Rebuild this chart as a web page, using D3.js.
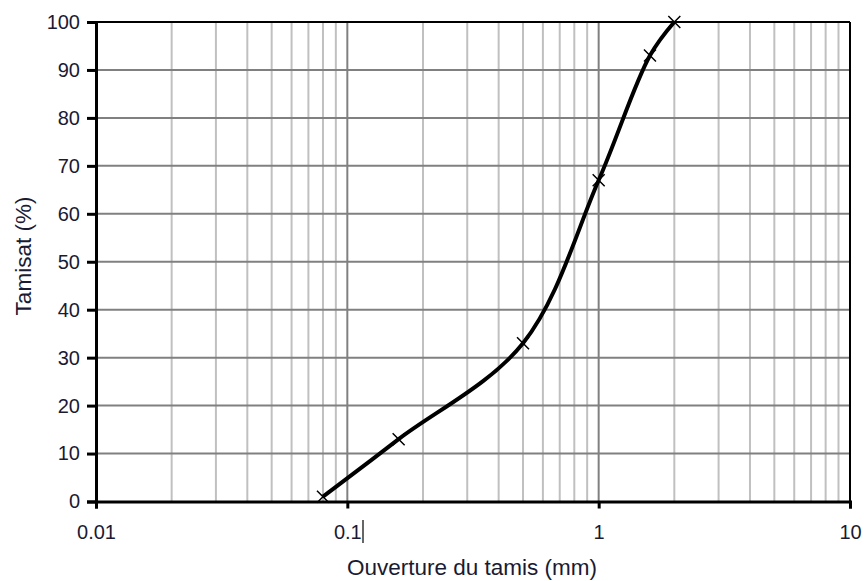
<!DOCTYPE html>
<html><head><meta charset="utf-8">
<script src="https://cdn.jsdelivr.net/npm/d3@7"></script>
<style>body{margin:0;background:#fff}text{font-family:"Liberation Sans",Arial,sans-serif;fill:#1a1a33}</style>
</head><body><svg id="c" width="864" height="581"></svg>
<script>
const sieve = [0.08, 0.16, 0.5, 1, 1.6, 2];
const passing = [1, 13, 33, 67, 93, 100];
const xTicks = [0.01, 0.1, 1, 10];
const xTickLabels = ["0.01", "0.1", "1", "10"];
const yTicks = [0, 10, 20, 30, 40, 50, 60, 70, 80, 90, 100];

const svg = d3.select("#c");
const L = 96, R = 850, T = 22, B = 501.5;
const x = d3.scaleLog().domain([0.01, 10]).range([L, R]);
const y = d3.scaleLinear().domain([0, 100]).range([B, T]);

// minor vertical grid
const minor = [];
for (let d = 0.01; d < 10; d *= 10) for (let k = 2; k <= 9; k++) minor.push(+(d * k).toPrecision(3));
svg.append("g").selectAll("line").data(minor).join("line")
  .attr("x1", d => x(d)).attr("x2", d => x(d)).attr("y1", T).attr("y2", B)
  .attr("stroke", "#c0c0c0").attr("stroke-width", 2);
// major vertical grid
svg.append("g").selectAll("line").data([0.1, 1]).join("line")
  .attr("x1", d => x(d)).attr("x2", d => x(d)).attr("y1", T).attr("y2", B)
  .attr("stroke", "#808080").attr("stroke-width", 2);
// horizontal grid
svg.append("g").selectAll("line").data(yTicks.slice(1, -1)).join("line")
  .attr("x1", L).attr("x2", R).attr("y1", d => y(d)).attr("y2", d => y(d))
  .attr("stroke", "#808080").attr("stroke-width", 2);

// border
svg.append("line").attr("x1", L).attr("x2", R).attr("y1", T).attr("y2", T).attr("stroke", "#000").attr("stroke-width", 2);
svg.append("line").attr("x1", R).attr("x2", R).attr("y1", T).attr("y2", B).attr("stroke", "#000").attr("stroke-width", 2);

// Y axis
const yAxis = svg.append("g").attr("transform", `translate(${L},0)`)
  .call(d3.axisLeft(y).tickValues(yTicks).tickSize(9).tickPadding(7).tickFormat(d3.format("d")));
yAxis.select(".domain").attr("stroke", "#000").attr("stroke-width", 3);
yAxis.selectAll(".tick line").attr("stroke", "#000").attr("stroke-width", 3);
yAxis.selectAll("text").attr("font-size", 20).style("fill", "#1a1a33");

// X axis
const xAxis = svg.append("g").attr("transform", `translate(0,${B})`)
  .call(d3.axisBottom(x).tickValues(xTicks).tickSize(7).tickPadding(16).tickFormat((d, i) => xTickLabels[i]));
xAxis.select(".domain").attr("stroke", "#000").attr("stroke-width", 3);
xAxis.selectAll(".tick line").attr("stroke", "#000").attr("stroke-width", 3);
xAxis.selectAll("text").attr("font-size", 20).style("fill", "#1a1a33");
// cursor artifact after "0.1"
svg.append("line").attr("x1", 363).attr("x2", 363).attr("y1", 520).attr("y2", 543)
  .attr("stroke", "#000").attr("stroke-width", 1.2);

// Axis titles
svg.append("text").attr("x", 472).attr("y", 575).attr("text-anchor", "middle").attr("font-size", 22.5).text("Ouverture du tamis (mm)");
svg.append("text").attr("transform", `translate(31,256) rotate(-90)`).attr("text-anchor", "middle").attr("font-size", 22.5).text("Tamisat (%)");

// curve
const pts = sieve.map((s, i) => [x(s), y(passing[i])]);
svg.append("path").datum(pts).attr("d", d3.line().curve(d3.curveCatmullRom.alpha(0.5)))
  .attr("fill", "none").attr("stroke", "#000").attr("stroke-width", 4).attr("stroke-linejoin", "round");

// markers
const m = 6;
svg.append("g").selectAll("path").data(pts).join("path")
  .attr("d", d => `M${d[0]-m},${d[1]-m}L${d[0]+m},${d[1]+m}M${d[0]-m},${d[1]+m}L${d[0]+m},${d[1]-m}`)
  .attr("stroke", "#000").attr("stroke-width", 1.5);
</script></body></html>
